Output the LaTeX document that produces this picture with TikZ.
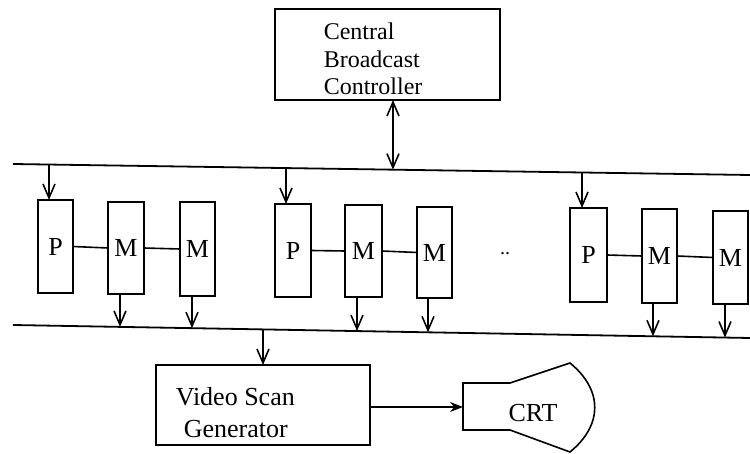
\documentclass[tikz,border=0pt]{standalone}
\usepackage{fontspec}
\setmainfont{Liberation Serif}
\usetikzlibrary{arrows.meta,calc}
\begin{document}
\begin{tikzpicture}[x=1pt,y=-1pt,line width=1.6pt,
  box/.style={draw,line width=1.6pt,inner sep=0pt,outer sep=0pt,anchor=north west,
    font=\fontsize{26}{30}\selectfont},
  lbl/.style={inner sep=0pt,anchor=base west},
  barb/.style={-{Straight Barb[length=14pt,width=12pt]}},
  dbarb/.style={{Straight Barb[length=14pt,width=12pt]}-{Straight Barb[length=14pt,width=12pt]}},
  fillarr/.style={-{Stealth[length=13pt,width=10pt]}}]
\useasboundingbox (0,0) rectangle (750,454);

% central broadcast controller
\node[box,minimum width=225pt,minimum height=91pt] (cbc) at (275,9) {};
\node[lbl,font=\fontsize{24}{28}\selectfont] (cbc1) at (323,40) {Central};
\node[lbl,font=\fontsize{24}{28}\selectfont] (cbc2) at (323,67.5) {Broadcast};
\node[lbl,font=\fontsize{24}{28}\selectfont] (cbc3) at (323,95) {Controller};

% buses
\coordinate (tl) at (13,164);
\coordinate (tr) at (750,175);
\coordinate (bl) at (13,325);
\coordinate (br) at (750,338);
\draw[line width=1.8pt] (tl) -- (tr);
\draw[line width=1.8pt] (bl) -- (br);

% double arrow
\coordinate (d) at (393,0);
\draw[dbarb] (d |- cbc.south) -- ($(tl)!{(393-13)/737}!(tr)$);

% group 1
\node[box,minimum width=35pt,minimum height=93pt] (P1) at (38,200) {P};
\node[box,minimum width=36pt,minimum height=92pt] (M1a) at (108,202) {M};
\node[box,minimum width=35pt,minimum height=94pt] (M1b) at (180,202) {M};
% group 2
\node[box,minimum width=36pt,minimum height=93pt] (P2) at (275,204) {P};
\node[box,minimum width=37pt,minimum height=92pt] (M2a) at (345,205) {M};
\node[box,minimum width=35pt,minimum height=91pt] (M2b) at (417,207) {M};
% group 3
\node[box,minimum width=37pt,minimum height=94pt] (P3) at (570,208) {P};
\node[box,minimum width=35pt,minimum height=94pt] (M3a) at (642,209) {M};
\node[box,minimum width=35pt,minimum height=93pt] (M3b) at (713,211) {M};

\node[inner sep=0pt,font=\fontsize{20}{24}\selectfont] (dots) at (505,254) {..};

% links
\draw (P1.east) -- (M1a.west);
\draw (M1a.east) -- (M1b.west);
\draw (P2.east) -- (M2a.west);
\draw (M2a.east) -- (M2b.west);
\draw (P3.east) -- (M3a.west);
\draw (M3a.east) -- (M3b.west);

% arrows from top bus to P
\coordinate (a1) at (49,0);
\coordinate (a2) at (286,0);
\coordinate (a3) at (582,0);
\draw[barb] ($(tl)!{(49-13)/737}!(tr)$) -- (a1 |- P1.north);
\draw[barb] ($(tl)!{(286-13)/737}!(tr)$) -- (a2 |- P2.north);
\draw[barb] ($(tl)!{(582-13)/737}!(tr)$) -- (a3 |- P3.north);

% arrows from M to bottom bus
\coordinate (b1) at (120,0);
\coordinate (b2) at (192,0);
\coordinate (b3) at (357,0);
\coordinate (b4) at (428,0);
\coordinate (b5) at (653,0);
\coordinate (b6) at (725,0);
\draw[barb] (b1 |- M1a.south) -- ($(bl)!{(120-13)/737}!(br)$);
\draw[barb] (b2 |- M1b.south) -- ($(bl)!{(192-13)/737}!(br)$);
\draw[barb] (b3 |- M2a.south) -- ($(bl)!{(357-13)/737}!(br)$);
\draw[barb] (b4 |- M2b.south) -- ($(bl)!{(428-13)/737}!(br)$);
\draw[barb] (b5 |- M3a.south) -- ($(bl)!{(653-13)/737}!(br)$);
\draw[barb] (b6 |- M3b.south) -- ($(bl)!{(725-13)/737}!(br)$);

% video scan generator
\node[box,minimum width=214pt,minimum height=80pt] (vsg) at (156,365) {};
\node[lbl,font=\fontsize{26}{30}\selectfont] (vsg1) at (175,406) {Video Scan};
\node[lbl,font=\fontsize{26}{30}\selectfont] (vsg2) at (183,437) {Generator};
\coordinate (v) at (263,0);
\draw[barb] ($(bl)!{(263-13)/737}!(br)$) -- (v |- vsg.north);

% CRT
\draw (463,383) -- (510,383) -- (570,363)
  .. controls (603,390) and (603,425) .. (570,452)
  -- (510,430) -- (463,430) -- cycle;
\coordinate (crtin) at (463,407);
\node[inner sep=0pt,anchor=base,font=\fontsize{26}{30}\selectfont] (crt) at (533,421) {CRT};
\draw[fillarr] (crtin -| vsg.east) -- (crtin);
\end{tikzpicture}
\end{document}
